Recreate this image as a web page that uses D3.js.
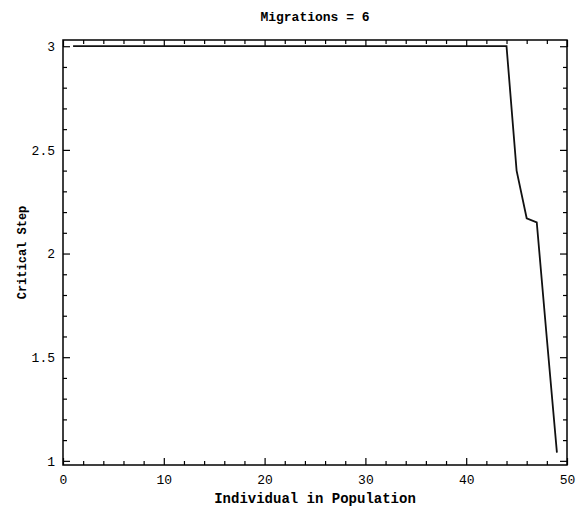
<!doctype html>
<html>
  <head>
    <script src="https://d3js.org/d3.v7.min.js"></script>
    <style>
      body { margin:0; background:#fff; }
      text { font-family:"Liberation Mono", "DejaVu Sans Mono", monospace; fill:#000; }
    </style>
  </head>
  <body>
    <svg style="width:580px;height:513px;"></svg>
  </body>
  <script>
    // individual number and its critical step
    var individuals = [1,2,3,4,5,6,7,8,9,10,11,12,13,14,15,16,17,18,19,20,
                       21,22,23,24,25,26,27,28,29,30,31,32,33,34,35,36,37,38,39,40,
                       41,42,43,44,45,46,47,48,49];
    var criticalStep = [3,3,3,3,3,3,3,3,3,3,3,3,3,3,3,3,3,3,3,3,
                        3,3,3,3,3,3,3,3,3,3,3,3,3,3,3,3,3,3,3,3,
                        3,3,3,3,2.40,2.17,2.15,1.59,1.04];
    var xMajor = [0,10,20,30,40,50];
    var xMinor = [2,4,6,8,12,14,16,18,22,24,26,28,32,34,36,38,42,44,46,48];
    var yMajor = [1,1.5,2,2.5,3];
    var yMinor = [1.1,1.2,1.3,1.4,1.6,1.7,1.8,1.9,2.1,2.2,2.3,2.4,2.6,2.7,2.8,2.9];

    var data = individuals.map((d,i)=>({x:d, y:criticalStep[i]}));

    // frame edges (not "top": that name is taken by window.top)
    var fLeft = 63, fRight = 567, fTop = 40, fBottom = 465;
    var xScale = d3.scaleLinear().domain([0,50]).range([fLeft,fRight]);
    var yScale = d3.scaleLinear().domain([0.98,3.03]).range([fBottom,fTop]);

    var svg = d3.select("svg");

    // frame
    svg.append("rect")
        .attr("x",fLeft).attr("y",fTop)
        .attr("width",fRight-fLeft).attr("height",fBottom-fTop)
        .attr("fill","none").attr("stroke","#000").attr("stroke-width",1.5);

    function axisG(axis, tr){
        var g = svg.append("g").attr("transform",tr).call(axis);
        g.select(".domain").remove();
        g.selectAll(".tick line").attr("stroke","#000").attr("stroke-width",1.2);
        return g;
    }

    // bottom
    var xb = axisG(d3.axisBottom(xScale).tickValues(xMajor).tickSize(-7).tickPadding(10)
        .tickFormat(d3.format("d")), "translate(0,"+fBottom+")");
    xb.selectAll("text").style("font-size","13px");
    axisG(d3.axisBottom(xScale).tickValues(xMinor).tickSize(-4).tickFormat(""), "translate(0,"+fBottom+")");
    // top (mirrored, no labels)
    axisG(d3.axisTop(xScale).tickValues(xMajor).tickSize(-7).tickFormat(""), "translate(0,"+fTop+")");
    axisG(d3.axisTop(xScale).tickValues(xMinor).tickSize(-4).tickFormat(""), "translate(0,"+fTop+")");

    // left
    var yl = axisG(d3.axisLeft(yScale).tickValues(yMajor).tickSize(-7).tickPadding(8)
        .tickFormat(d3.format("")), "translate("+fLeft+",0)");
    yl.selectAll("text").style("font-size","13px");
    axisG(d3.axisLeft(yScale).tickValues(yMinor).tickSize(-4).tickFormat(""), "translate("+fLeft+",0)");
    // right
    axisG(d3.axisRight(yScale).tickValues(yMajor).tickSize(-7).tickFormat(""), "translate("+fRight+",0)");
    axisG(d3.axisRight(yScale).tickValues(yMinor).tickSize(-4).tickFormat(""), "translate("+fRight+",0)");

    // line
    var stepLine = d3.line()
        .x(d=>xScale(d.x))
        .y(d=>yScale(d.y));
    svg.append("path")
        .attr("d",stepLine(data))
        .attr("fill","none")
        .attr("stroke","#111")
        .attr("stroke-width",1.8);

    // titles
    svg.append("text")
        .attr("x",(fLeft+fRight)/2).attr("y",21)
        .attr("text-anchor","middle")
        .style("font-size","13px").style("font-weight","bold")
        .text("Migrations = 6");
    svg.append("text")
        .attr("x",(fLeft+fRight)/2).attr("y",503)
        .attr("text-anchor","middle")
        .style("font-size","14px").style("font-weight","bold")
        .text("Individual in Population");
    svg.append("text")
        .attr("transform","translate(26,"+((fTop+fBottom)/2)+") rotate(-90)")
        .attr("text-anchor","middle")
        .style("font-size","12px").style("font-weight","bold")
        .text("Critical Step");
  </script>
</html>
